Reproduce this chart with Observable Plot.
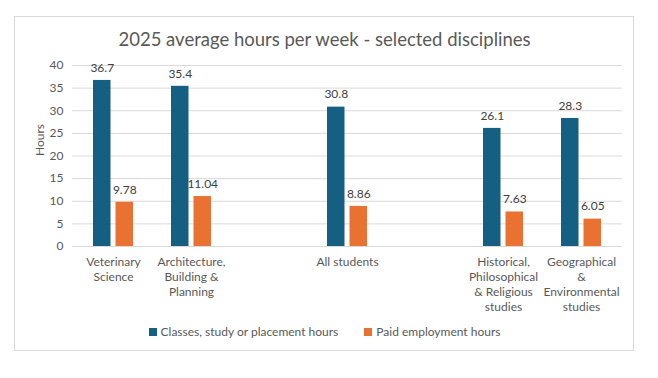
<!DOCTYPE html>
<html>
<head>
<meta charset="utf-8">
<script src="https://cdn.jsdelivr.net/npm/d3@7"></script>
<script src="https://cdn.jsdelivr.net/npm/@observablehq/plot@0.6"></script>
<style>
  html, body { margin: 0; padding: 0; background: #fff; }
  body { width: 658px; height: 378px; position: relative; overflow: hidden; font-family: Lato, "Open Sans", sans-serif; }
  #frame { position: absolute; left: 14px; top: 16px; width: 620px; height: 335px; border: 1px solid #d9d9d9; box-sizing: border-box; }
  #title { position: absolute; left: 14px; width: 621px; top: 27px; text-align: center; font-size: 18.5px; line-height: 24px; color: #595959; }
  #chart { position: absolute; left: 0; top: 55px; }
  #legend { position: absolute; left: 14px; width: 621px; top: 324px; display: flex; justify-content: center; gap: 26px; font-size: 12px; color: #595959; line-height: 16px; }
  .item { display: flex; align-items: center; gap: 4px; }
  .sw { width: 8px; height: 8px; display: inline-block; }
</style>
</head>
<body>
<div id="frame"></div>
<div id="title">2025 average hours per week - selected disciplines</div>
<div id="chart"></div>
<div id="legend"></div>
<script>
const categories = [
  "Veterinary\nScience",
  "Architecture,\nBuilding &\nPlanning",
  "",
  "All students",
  " ",
  "Historical,\nPhilosophical\n& Religious\nstudies",
  "Geographical\n&\nEnvironmental\nstudies"
];
const classesHours = [36.7, 35.4, null, 30.8, null, 26.1, 28.3];
const paidHours = [9.78, 11.04, null, 8.86, null, 7.63, 6.05];
const seriesNames = ["Classes, study or placement hours", "Paid employment hours"];
const seriesColors = ["#156082", "#E97132"];
const yTicks = [0, 5, 10, 15, 20, 25, 30, 35, 40];
const yLabel = "Hours";

const classRows = categories.map((c, i) => ({cat: c, value: classesHours[i]})).filter(d => d.value != null);
const paidRows = categories.map((c, i) => ({cat: c, value: paidHours[i]})).filter(d => d.value != null);

const chart = Plot.plot({
  width: 658,
  height: 260,
  marginLeft: 72,
  marginRight: 36,
  marginTop: 10,
  marginBottom: 69,
  style: {fontFamily: "Lato, 'Open Sans', sans-serif", fontSize: "12px", color: "#595959", background: "transparent"},
  x: {type: "band", domain: categories, paddingInner: 0.49, paddingOuter: 0.245, label: null},
  y: {domain: [0, 40], label: null},
  marks: [
    Plot.gridY(yTicks, {stroke: "#d9d9d9", strokeOpacity: 1}),
    Plot.axisY(yTicks, {tickSize: 0, tickPadding: 9, label: null, fill: "#595959"}),
    Plot.axisX({tickSize: 0, tickPadding: 9, lineHeight: 1.25, label: null, fill: "#595959"}),
    Plot.text([yLabel], {frameAnchor: "left", dx: -32, rotate: -90, fill: "#595959", fontSize: 12}),
    Plot.barY(classRows, {x: "cat", y: "value", fill: seriesColors[0], insetRight: 22.5}),
    Plot.barY(paidRows, {x: "cat", y: "value", fill: seriesColors[1], insetLeft: 22.5}),
    Plot.text(classRows, {x: "cat", y: "value", text: d => String(d.value), dx: -11.25, dy: -12.5, fill: "#404040", fontSize: 12}),
    Plot.text(paidRows, {x: "cat", y: "value", text: d => String(d.value), dx: 11.25, dy: -12.5, fill: "#404040", fontSize: 12})
  ]
});
document.getElementById("chart").appendChild(chart);

const legend = document.getElementById("legend");
seriesNames.forEach((name, i) => {
  const item = document.createElement("div");
  item.className = "item";
  const sw = document.createElement("span");
  sw.className = "sw";
  sw.style.background = seriesColors[i];
  const label = document.createElement("span");
  label.textContent = name;
  item.appendChild(sw);
  item.appendChild(label);
  legend.appendChild(item);
});
</script>
</body>
</html>
